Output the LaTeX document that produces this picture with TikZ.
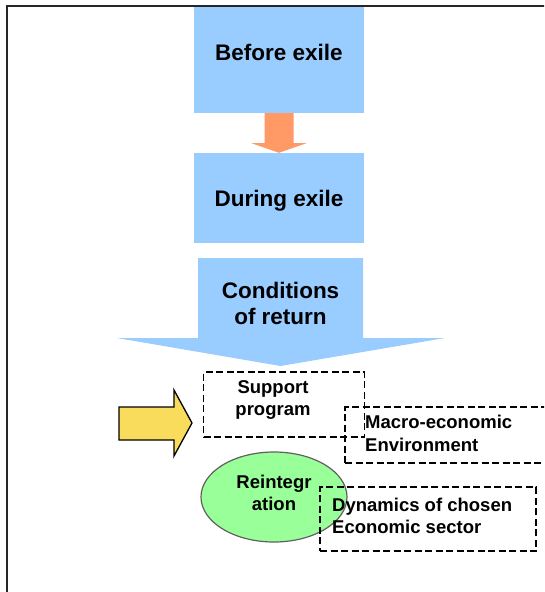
\documentclass[tikz,border=0pt]{standalone}
\usepackage{fontspec}
\setmainfont{Liberation Sans}
\usetikzlibrary{shapes.geometric,calc}
\definecolor{stageblue}{HTML}{99CCFF}
\definecolor{stepolive}{HTML}{FF9966}
\definecolor{pushyellow}{HTML}{F9DC5C}
\definecolor{reintgreen}{HTML}{99FF99}
\definecolor{rimgray}{HTML}{606060}
\tikzset{
  stagebox/.style={fill=stageblue, draw=none, inner sep=0pt},
  bigtext/.style={font=\fontsize{22.5}{26}\selectfont\bfseries, align=center, inner sep=0pt, anchor=base},
  smalltext/.style={font=\fontsize{18.5}{22}\selectfont\bfseries, inner sep=0pt, anchor=base},
  factorbox/.style={draw=black, line width=1.6pt, dash pattern=on 7pt off 3.5pt, inner sep=0pt},
  flowarrow/.style={fill=stepolive, draw=none},
  bigarrow/.style={fill=stageblue, draw=none},
  pusharrow/.style={fill=pushyellow, draw=black, line width=1.3pt, line join=miter},
}
\begin{document}
\begin{tikzpicture}[x=1pt,y=-1pt]
\useasboundingbox (0,0) rectangle (544,592);
\clip (0,0) rectangle (544,592);

% outer frame
\draw[line width=2.2pt, black!85] (7,600) -- (7,6) -- (560,6);

% stage boxes
\node[stagebox, minimum width=170pt, minimum height=106pt] (before) at (279,60) {};
\node[bigtext] (beforelbl) at (279,60) {Before exile};
\node[stagebox, minimum width=170pt, minimum height=90pt] (during) at (279,198) {};
\node[bigtext] (duringlbl) at (279,206) {During exile};

% arrow between the two stages
\fill[flowarrow] ($(before.south)+(-14.5,0)$) -- ($(before.south)+(14.5,0)$)
  -- ($(before.south)+(14.5,30)$) -- ($(before.south)+(27.5,30)$)
  -- (during.north) -- ($(before.south)+(-27.5,30)$)
  -- ($(before.south)+(-14.5,30)$) -- cycle;

% conditions of return: wide arrow
\coordinate (condtip) at (280.5,366);
\fill[bigarrow] (198,258) -- (363,258) -- (363,338) -- (445,338)
  -- (condtip) -- (117,338) -- (198,338) -- cycle;
\node[bigtext] (condlbl) at (280.5,298) {Conditions};
\node[bigtext] (condlbl2) at (280.5,324) {of return};

% factor boxes
\node[factorbox, minimum width=161pt, minimum height=65pt] (support) at (284,404.5) {};
\node[smalltext] (supportlbl) at (273,393) {Support};
\node[smalltext] (supportlbl2) at (273,415) {program};

\node[factorbox, minimum width=210pt, minimum height=56pt] (macro) at (450,435) {};
\node[smalltext, anchor=base west] (macrolbl) at (365,428) {Macro-economic};
\node[smalltext, anchor=base west] (macrolbl2) at (365,451) {Environment};

% reintegration
\node[ellipse, fill=reintgreen, draw=rimgray, line width=1.2pt,
      minimum width=146pt, minimum height=90pt, inner sep=0pt] (reint) at (274,497) {};
\node[smalltext] (reintlbl) at (274,488) {Reintegr};
\node[smalltext] (reintlbl2) at (274,510) {ation};

\node[factorbox, minimum width=216pt, minimum height=64pt] (dyn) at (428,519) {};
\node[smalltext, anchor=base west] (dynlbl) at (332,511) {Dynamics of chosen};
\node[smalltext, anchor=base west] (dynlbl2) at (332,533) {Economic sector};

% yellow arrow into the support programme
\coordinate (pushtip) at (192,423);
\draw[pusharrow] (119,407) -- (174,407) -- (174,390) -- (pushtip)
  -- (174,456) -- (174,440) -- (119,440) -- cycle;
\end{tikzpicture}
\end{document}
